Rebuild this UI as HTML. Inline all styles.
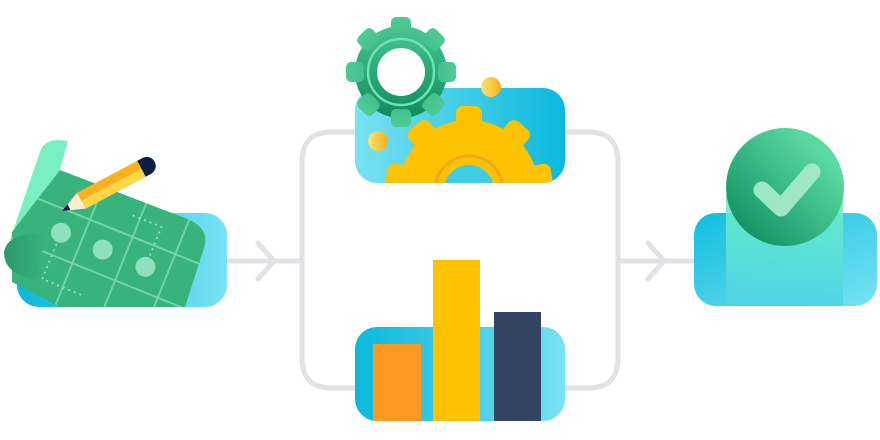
<!DOCTYPE html>
<html><head><meta charset="utf-8"><style>html,body{margin:0;padding:0;background:#fff;width:880px;height:440px;overflow:hidden}</style></head>
<body>
<svg width="880" height="440" viewBox="0 0 880 440" xmlns="http://www.w3.org/2000/svg">
<defs>
<linearGradient id="cyanL" x1="0" x2="1" y1="0" y2="0"><stop offset="0" stop-color="#0bb8dc"/><stop offset="1" stop-color="#78e2f2"/></linearGradient>
<linearGradient id="cyanR" x1="0" x2="1" y1="0" y2="0"><stop offset="0" stop-color="#78e2f2"/><stop offset="1" stop-color="#0bb8dc"/></linearGradient>
<linearGradient id="gGreen" gradientUnits="userSpaceOnUse" x1="0" x2="0" y1="-55" y2="55"><stop offset="0" stop-color="#4fcc94"/><stop offset="1" stop-color="#07865a"/></linearGradient>
<linearGradient id="dot" x1="0" x2="1"><stop offset="0" stop-color="#fde27a"/><stop offset="1" stop-color="#f6b21c"/></linearGradient>
<linearGradient id="chk" x1="0" y1="1" x2="1" y2="0"><stop offset="0" stop-color="#05865a"/><stop offset="0.8" stop-color="#5ad9a0"/></linearGradient>
<linearGradient id="col" x1="0" y1="0" x2="0" y2="1"><stop offset="0" stop-color="#6ff0c4"/><stop offset="1" stop-color="#4dd3e6"/></linearGradient>
<linearGradient id="boxR" x1="0" y1="0" x2="1" y2="1"><stop offset="0" stop-color="#10bddf"/><stop offset="1" stop-color="#78e2f2"/></linearGradient>
<linearGradient id="roll" x1="0" x2="1"><stop offset="0" stop-color="#2a9a6c"/><stop offset="1" stop-color="#38b37c"/></linearGradient>
<clipPath id="gearClip"><rect x="355" y="88" width="210" height="95" rx="22"/></clipPath>
<clipPath id="sheetClip"><path d="M60,170 L190,220 Q210,230 204,248 L185,307 L60,307 L12,282 L12,232 Z"/></clipPath>
</defs>
<g stroke="#e1e1e6" stroke-width="5" fill="none" stroke-linecap="round">
<line x1="225" y1="261" x2="302" y2="261"/>
<polyline points="258,243 274,261 258,279"/>
<path d="M355,132 H332 Q302,132 302,162 V358 Q302,388 332,388 H355"/>
<path d="M565,132 H588 Q618,132 618,162 V358 Q618,388 588,388 H565"/>
<line x1="618" y1="261" x2="696" y2="261"/>
<polyline points="648,243 664,261 648,279"/>
</g>
<rect x="17" y="213" width="210" height="94" rx="22" fill="url(#cyanL)"/>
<path d="M40,152 Q44,140 58,140 L68,141 L40,240 L10,240 Z" fill="#78f0c2"/>
<g clip-path="url(#sheetClip)">
<rect x="0" y="150" width="240" height="160" fill="#38b37c"/>
<g transform="translate(66,183) rotate(22)">
<g stroke="#7fdcb0" stroke-width="2" opacity="0.8">
<line x1="-30" y1="25" x2="170" y2="25"/>
<line x1="-30" y1="72" x2="170" y2="72"/>
<line x1="-30" y1="118" x2="170" y2="118"/>
<line x1="36" y1="-20" x2="36" y2="170"/>
<line x1="82" y1="-20" x2="82" y2="170"/>
<line x1="128" y1="-20" x2="128" y2="170"/>
</g>
<g fill="#8fe0bc"><circle cx="14" cy="48" r="10"/><circle cx="59" cy="48" r="10"/><circle cx="105" cy="48" r="10"/></g>
<g stroke="#8fe0bc" stroke-width="2" stroke-dasharray="2 4" fill="none"><path d="M14,60 V98 H60"/><path d="M105,36 V5 H72"/></g>
</g>
</g>
<path d="M36,234 Q8,233 4,252 Q4,272 28,278 L36,280 L46,236 Z" fill="url(#roll)"/>
<g transform="translate(62,211) rotate(-28)">
<polygon points="0,0 22,-9 22,9" fill="#fdeed3"/>
<polygon points="0,0 8,-3.3 8,3.3" fill="#0b1e45"/>
<rect x="22" y="-9" width="68" height="18" fill="#fdb122"/>
<rect x="22" y="0" width="68" height="9" fill="#fed544"/>
<path d="M90,-9 H96 A9,9 0 0 1 96,9 H90 Z" fill="#0b1e45"/>
</g>
<rect x="355" y="88" width="210" height="95" rx="22" fill="url(#cyanR)"/>
<g clip-path="url(#gearClip)">
<g transform="translate(469,190)" fill="#fdc300">
<circle r="70"/>
<g id="ty"><rect x="-13" y="-84" width="26" height="24" rx="7"/></g>
<use href="#ty" transform="rotate(40)"/><use href="#ty" transform="rotate(80)"/><use href="#ty" transform="rotate(-40)"/><use href="#ty" transform="rotate(-80)"/>
<circle r="34" fill="none" stroke="#f6a41d" stroke-width="3"/>
<circle r="25" fill="#3fcde6"/>
</g>
</g>
<circle cx="491" cy="87" r="10" fill="url(#dot)"/>
<circle cx="378" cy="141" r="10" fill="url(#dot)"/>
<g transform="translate(401,72)" fill="url(#gGreen)">
<circle r="46"/>
<g id="tg"><rect x="-10" y="-55" width="20" height="18" rx="5"/></g>
<use href="#tg" transform="rotate(45)"/><use href="#tg" transform="rotate(90)"/><use href="#tg" transform="rotate(135)"/><use href="#tg" transform="rotate(180)"/><use href="#tg" transform="rotate(225)"/><use href="#tg" transform="rotate(270)"/><use href="#tg" transform="rotate(315)"/>
</g>
<circle cx="401" cy="72" r="33" fill="none" stroke="#6fe3b1" stroke-width="2.5"/>
<circle cx="401" cy="72" r="24" fill="#fff"/>
<rect x="355" y="327" width="210" height="94" rx="22" fill="url(#cyanL)"/>
<rect x="373" y="344" width="48" height="77" fill="#fd9922"/>
<rect x="433" y="260" width="47" height="161" fill="#fdc300"/>
<rect x="494" y="312" width="47" height="109" fill="#344563"/>
<rect x="694" y="213" width="183" height="93" rx="22" fill="url(#boxR)"/>
<rect x="726" y="195" width="117" height="111" fill="url(#col)" opacity="0.9"/>
<circle cx="785" cy="187" r="59" fill="url(#chk)"/>
<polyline points="762,190 781,208 812,172" fill="none" stroke="#a8ecc9" stroke-width="17" stroke-linecap="round" stroke-linejoin="round" opacity="0.9"/>
</svg>
</body></html>
